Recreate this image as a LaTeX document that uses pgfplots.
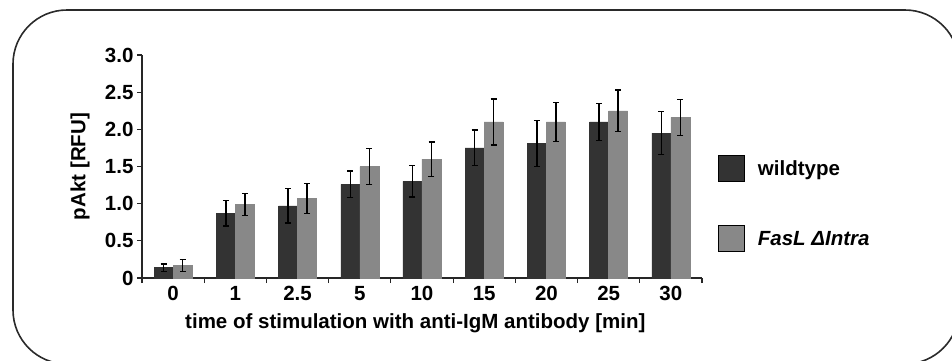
\documentclass[border=0pt]{standalone}
\usepackage{fontspec}
\setmainfont{Liberation Sans}
\usepackage{pgfplots}
\usepackage{pgfplotstable}
\pgfplotsset{compat=1.18}

\definecolor{wtdark}{HTML}{333333}
\definecolor{kogray}{HTML}{888888}
\definecolor{framegray}{HTML}{2A2A2A}

% pAkt signal per time point: mean and error for both genotypes
\pgfplotstableread{
x wt   wterr ko   koerr
0 0.14 0.05  0.17 0.08
1 0.87 0.17  0.99 0.15
2 0.97 0.23  1.07 0.20
3 1.26 0.18  1.50 0.24
4 1.30 0.21  1.60 0.23
5 1.75 0.24  2.10 0.31
6 1.81 0.31  2.10 0.26
7 2.10 0.25  2.25 0.28
8 1.95 0.29  2.16 0.24
}\datatable

\newcommand{\lblfont}{\fontsize{20.5}{22}\selectfont\bfseries}

\begin{document}
\begin{tikzpicture}[x=1pt,y=1pt]
\useasboundingbox (0,0) rectangle (952,-360);
\begin{scope}
  \clip (0,0) rectangle (952,-360);
  \draw[framegray, line width=1.6pt, rounded corners=54pt] (13,-10) rectangle (959,-364);
\end{scope}
\begin{axis}[
  at={(142pt,-278pt)}, anchor=south west,
  scale only axis, width=560pt, height=223pt,
  xmin=-0.5, xmax=8.5, ymin=0, ymax=3,
  axis lines=left,
  axis line style={-, line width=1.2pt, black!85},
  /pgf/number format/assume math mode=true,
  xtick={0,...,8},
  xticklabels={0,1,2.5,5,10,15,20,25,30},
  minor xtick={-0.5,0.5,...,8.5},
  major x tick style={draw=none},
  ytick={0,0.5,1,1.5,2,2.5,3},
  yticklabels={0,0.5,1.0,1.5,2.0,2.5,3.0},
  tick align=outside,
  major tick length=5pt, minor tick length=5pt,
  every tick/.style={line width=1.2pt, black!85},
  tick label style={font=\lblfont},
  ybar=0pt, bar width=19pt,
  xlabel={time of stimulation with anti-IgM antibody [min]},
  ylabel={pAkt [RFU]},
  every axis x label/.style={at={(axis description cs:0.488,-0.2018)}, anchor=center, font=\lblfont},
  every axis y label/.style={at={(axis description cs:-0.1107,0.5)}, rotate=90, anchor=center, font=\lblfont},
  legend style={at={(axis description cs:1.0286,0.5516)}, anchor=north west,
    draw=none, fill=none, inner sep=0pt, font=\lblfont, row sep=43pt},
  legend cell align=left,
  legend image code/.code={%
    \draw[#1, draw=black, line width=1pt] (0pt,-13pt) rectangle (26pt,13pt);
    \path (37pt,0pt);},
  error bars/error bar style={line width=1.5pt, black},
  error bars/error mark options={rotate=90, mark size=3pt, line width=1.3pt, black},
]
\addplot[fill=wtdark, draw=wtdark,
  error bars/.cd, y dir=both, y explicit]
  table[x=x, y=wt, y error=wterr] {\datatable};
\addlegendentry{wildtype}
\addplot[fill=kogray, draw=kogray,
  error bars/.cd, y dir=both, y explicit]
  table[x=x, y=ko, y error=koerr] {\datatable};
\addlegendentry{\textit{FasL ΔIntra}}
\end{axis}
\end{tikzpicture}
\end{document}
